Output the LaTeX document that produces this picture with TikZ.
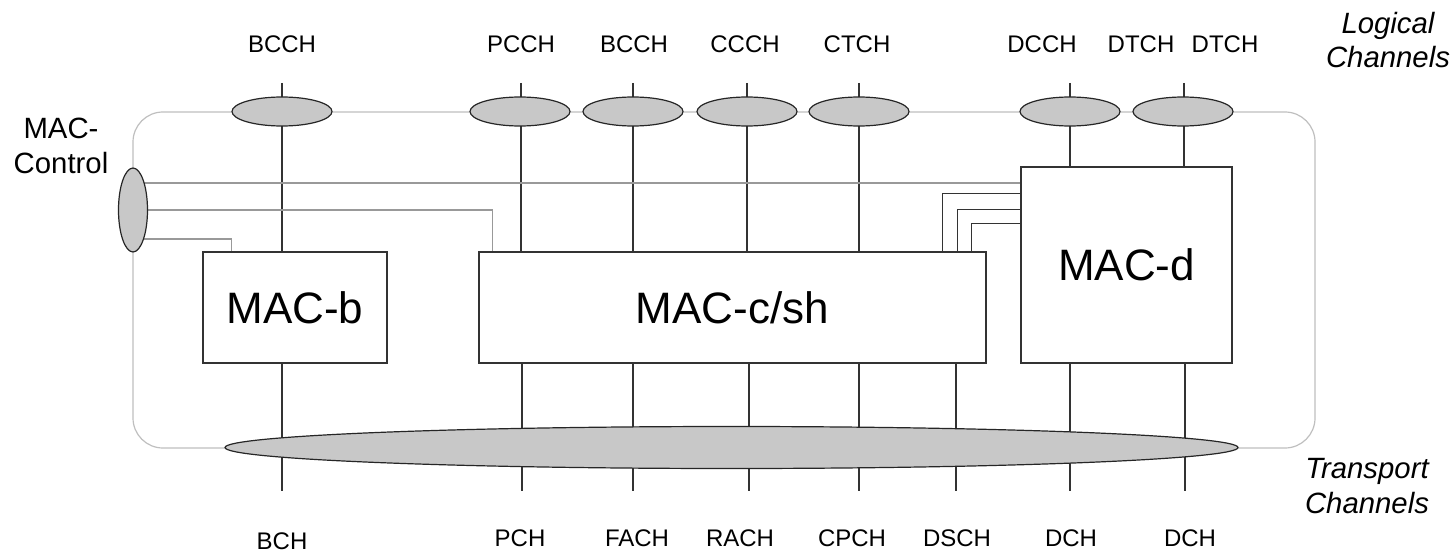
\documentclass[tikz,border=0pt]{standalone}
\usepackage{fontspec}
\setmainfont{Liberation Sans}
\usetikzlibrary{shapes.geometric}
\definecolor{chanfill}{HTML}{C8C8C8}

\begin{document}
\begin{tikzpicture}[x=0.75pt, y=-0.75pt,
  chan/.style={ellipse, draw=black!85, line width=0.9pt, fill=chanfill, inner sep=0pt, minimum width=75pt, minimum height=21.75pt},
  macbox/.style={draw=black!80, line width=0.9pt, inner sep=0pt, font=\fontsize{33}{36}\selectfont},
  chlabel/.style={font=\fontsize{18}{20}\selectfont, inner sep=0pt},
  sidelabel/.style={font=\fontsize{22}{26}\selectfont, align=center, inner sep=0pt},
  wire/.style={draw=black!80, line width=0.9pt},
  ctrlwire/.style={draw=black!40, line width=1.1pt},
  frame/.style={draw=black!25, line width=0.9pt, rounded corners=22.5pt}]

  \useasboundingbox (0,0) rectangle (1455,556);

  % outer frame
  \draw[frame] (133,112) rectangle (1315,448);

  % MAC entities
  \node[macbox, minimum width=138pt, minimum height=83.25pt] (macb) at (295,307.5) {MAC-b};
  \node[macbox, minimum width=380.25pt, minimum height=83.25pt] (macc) at (732.5,307.5) {MAC-c/sh};
  \node[macbox, minimum width=158.25pt, minimum height=147pt] (macd) at (1126.5,265) {MAC-d};

  % logical channel labels
  \node[chlabel] (lbcch) at (282,44) {BCCH};
  \node[chlabel] (lpcch) at (521,44) {PCCH};
  \node[chlabel] (lbcch2) at (634,44) {BCCH};
  \node[chlabel] (lccch) at (745,44) {CCCH};
  \node[chlabel] (lctch) at (857,44) {CTCH};
  \node[chlabel] (ldcch) at (1042,44) {DCCH};
  \node[chlabel] (ldtch) at (1141,44) {DTCH};
  \node[chlabel] (ldtch2) at (1225,44) {DTCH};

  % transport channel labels
  \node[chlabel] (tbch) at (282,541) {BCH};
  \node[chlabel] (tpch) at (520,538) {PCH};
  \node[chlabel] (tfach) at (637,538) {FACH};
  \node[chlabel] (track) at (740,538) {RACH};
  \node[chlabel] (tcpch) at (852,538) {CPCH};
  \node[chlabel] (tdsch) at (957,538) {DSCH};
  \node[chlabel] (tdch) at (1071,538) {DCH};
  \node[chlabel] (tdch2) at (1190,538) {DCH};

  \node[sidelabel] (logical) at (1388,40) {\itshape Logical\\\itshape Channels};
  \node[sidelabel] (transp) at (1367,486) {\itshape Transport\\\itshape Channels};
  \node[sidelabel] (ctrllabel) at (61,146) {MAC-\\Control};

  % line ends
  \coordinate (up1) at (282,83);
  \coordinate (up2) at (521,83);
  \coordinate (up3) at (633,83);
  \coordinate (up4) at (747,83);
  \coordinate (up5) at (859,83);
  \coordinate (up6) at (1070,83);
  \coordinate (up7) at (1184,83);
  \coordinate (dn1) at (282,491);
  \coordinate (dn2) at (522,491);
  \coordinate (dn3) at (633,491);
  \coordinate (dn4) at (749,491);
  \coordinate (dn5) at (859,491);
  \coordinate (dn6) at (956,491);
  \coordinate (dn7) at (1070,491);
  \coordinate (dn8) at (1185,491);

  \draw[wire] (up1) -- (up1 |- macb.north);
  \draw[wire] (up2) -- (up2 |- macc.north);
  \draw[wire] (up3) -- (up3 |- macc.north);
  \draw[wire] (up4) -- (up4 |- macc.north);
  \draw[wire] (up5) -- (up5 |- macc.north);
  \draw[wire] (up6) -- (up6 |- macd.north);
  \draw[wire] (up7) -- (up7 |- macd.north);
  \draw[wire] (dn1 |- macb.south) -- (dn1);
  \draw[wire] (dn2 |- macc.south) -- (dn2);
  \draw[wire] (dn3 |- macc.south) -- (dn3);
  \draw[wire] (dn4 |- macc.south) -- (dn4);
  \draw[wire] (dn5 |- macc.south) -- (dn5);
  \draw[wire] (dn6 |- macc.south) -- (dn6);
  \draw[wire] (dn7 |- macd.south) -- (dn7);
  \draw[wire] (dn8 |- macd.south) -- (dn8);

  % MAC-c/sh to MAC-d
  \draw[wire] ([xshift=348pt]macc.north west) |- ([yshift=-20.25pt]macd.north west);
  \draw[wire] ([xshift=359.25pt]macc.north west) |- ([yshift=-32.25pt]macd.north west);
  \draw[wire] ([xshift=369.75pt]macc.north west) |- ([yshift=-42.75pt]macd.north west);

  % MAC-Control
  \coordinate (ctrl) at (133,210);
  \coordinate (ctrlup) at (133,183);
  \coordinate (ctrldn) at (133,239);
  \draw[ctrlwire] (ctrlup) -- (ctrlup -| macd.west);
  \draw[ctrlwire] (ctrl) -| ([xshift=10.5pt]macc.north west);
  \draw[ctrlwire] (ctrldn) -| ([xshift=21.75pt]macb.north west);
  \node[chan, minimum width=21.75pt, minimum height=63pt] (ctrlell) at (ctrl) {};

  % channel ellipses
  \node[chan] (e1) at (282,111.5) {};
  \node[chan] (e2) at (520,111.5) {};
  \node[chan] (e3) at (633,111.5) {};
  \node[chan] (e4) at (747,111.5) {};
  \node[chan] (e5) at (859,111.5) {};
  \node[chan] (e6) at (1070,111.5) {};
  \node[chan] (e7) at (1183,111.5) {};
  \node[chan, minimum width=759.75pt, minimum height=31.5pt] (transport) at (731.5,447.5) {};
\end{tikzpicture}
\end{document}
